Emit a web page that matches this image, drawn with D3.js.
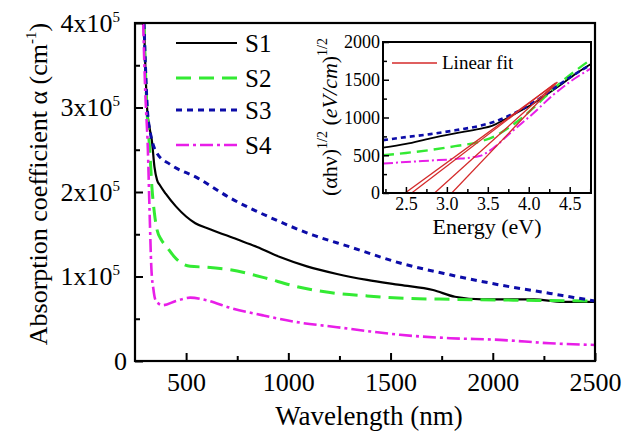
<!DOCTYPE html>
<html lang="en">
<meta charset="utf-8"/>
<body style="margin:0;background:#fff">
<svg id="chart" width="636" height="437"></svg>
<script src="https://d3js.org/d3.v7.min.js"></script>
<script>
// main panel: [wavelength (nm), alpha (x10^5 cm^-1)]
let s1 = [[294,4.0],[309,3.0],[322,2.75],[333,2.6],[345,2.3],[358,2.14],[372,2.08],[400,1.98],[450,1.83],[500,1.71],[545,1.63],[617,1.56],[749,1.44],[847,1.35],[959,1.23],[1091,1.12],[1238,1.03],[1385,0.96],[1546,0.90],[1708,0.84],[1815,0.76],[1952,0.73],[2200,0.73],[2343,0.70],[2500,0.70]]
let s2 = [[294,4.0],[308,3.0],[322,2.5],[333,2.05],[345,1.75],[358,1.55],[380,1.43],[406,1.35],[440,1.24],[470,1.17],[520,1.12],[600,1.11],[715,1.08],[876,0.99],[1042,0.88],[1204,0.81],[1385,0.77],[1600,0.74],[1800,0.73],[2100,0.72],[2500,0.71]]
let s3 = [[294,4.0],[310,3.0],[325,2.7],[340,2.55],[360,2.45],[420,2.33],[553,2.17],[715,1.93],[910,1.70],[1121,1.49],[1302,1.35],[1546,1.16],[1791,1.02],[2035,0.90],[2280,0.80],[2500,0.71]]
let s4 = [[290,4.0],[300,3.2],[313,2.5],[321,1.8],[330,1.1],[340,0.85],[350,0.72],[365,0.68],[385,0.66],[450,0.71],[520,0.75],[600,0.72],[715,0.63],[876,0.54],[1042,0.46],[1238,0.40],[1400,0.35],[1546,0.31],[1791,0.27],[2035,0.25],[2280,0.21],[2500,0.19]]

// inset: [energy (eV), (alpha h nu)^1/2]
let i1 = [[2.22,600],[2.5,650],[2.8,725],[3.1,790],[3.4,850],[3.55,890],[3.7,970],[3.85,1060],[4.0,1150],[4.2,1290],[4.4,1440],[4.6,1600],[4.76,1710]]
let i2 = [[2.22,500],[2.5,530],[2.8,570],[3.1,620],[3.4,680],[3.6,760],[3.75,860],[3.9,980],[4.1,1170],[4.3,1380],[4.5,1560],[4.76,1770]]
let i3 = [[2.22,700],[2.5,740],[2.8,780],[3.1,830],[3.4,890],[3.6,950],[3.75,1020],[3.9,1100],[4.1,1230],[4.3,1380],[4.5,1530],[4.76,1700]]
let i4 = [[2.22,390],[2.5,410],[2.8,430],[3.1,450],[3.4,490],[3.56,590],[3.8,820],[4.05,1050],[4.3,1300],[4.5,1470],[4.76,1650]]
let fits = [[[2.49,0],[4.30,1430]],[[2.57,0],[4.33,1460]],[[2.85,0],[4.30,1420]],[[3.06,0],[4.35,1470]]]

let xTicks = [500,1000,1500,2000,2500]
let xMinor = [750,1250,1750,2250]
let yTicks = [0,1,2,3,4]
let yMinor = [0.5,1.5,2.5,3.5]
let ixTicks = [2.5,3.0,3.5,4.0,4.5]
let ixMinor = [2.25,2.75,3.25,3.75,4.25,4.75]
let iyTicks = [0,500,1000,1500,2000]
let iyMinor = [250,750,1250,1750]

let names = ["S1","S2","S3","S4"]
let colors = ["#000000","#33ea33","#0c0ca8","#e81ee8"]
let dashes = ["none","15,8","6,5","13,4,3,4"]
let widths = [2.2,3,3,2.6]

let font = "Liberation Serif, DejaVu Serif, Times New Roman, serif"
let svg = d3.select("#chart").attr("font-family", font)

let L=135, R=595, T=23, B=361
let x = d3.scaleLinear().domain([250,2500]).range([L,R])
let y = d3.scaleLinear().domain([0,4]).range([B,T])

svg.append("clipPath").attr("id","clipMain").append("rect").attr("x",L).attr("y",T).attr("width",R-L).attr("height",B-T)

let line = d3.line().x(d=>x(d[0])).y(d=>y(d[1])).curve(d3.curveMonotoneX)
let series = [s1,s2,s3,s4]
series.forEach((s,i)=>{
	svg.append("path").attr("d", line(s)).attr("fill","none")
		.attr("stroke", colors[i]).attr("stroke-width", widths[i])
		.attr("stroke-dasharray", dashes[i]).attr("clip-path","url(#clipMain)")
})

// axes
let gx = svg.append("g").attr("transform","translate(0,"+B+")")
	.call(d3.axisBottom(x).tickValues(xTicks).tickSizeInner(-8).tickSizeOuter(0).tickPadding(12).tickFormat(d3.format("d")))
let gxm = svg.append("g").attr("transform","translate(0,"+B+")")
	.call(d3.axisBottom(x).tickValues(xMinor).tickSizeInner(-5).tickSizeOuter(0).tickFormat(""))
let gy = svg.append("g").attr("transform","translate("+L+",0)")
	.call(d3.axisLeft(y).tickValues(yTicks).tickSizeInner(-8).tickSizeOuter(0).tickPadding(8).tickFormat(d3.format("d")))
let gym = svg.append("g").attr("transform","translate("+L+",0)")
	.call(d3.axisLeft(y).tickValues(yMinor).tickSizeInner(-5).tickSizeOuter(0).tickFormat(""))
svg.selectAll("g").attr("font-family", font)
svg.selectAll(".domain").remove()
svg.selectAll(".tick line").attr("stroke","#000").attr("stroke-width",2)
gx.selectAll("text").attr("font-size","26px").attr("fill","#000")
gy.selectAll(".tick text").each(function(d){
	let t = d3.select(this).attr("font-size","26px").attr("fill","#000")
	if (d===0) return
	t.text(null).attr("x",-15)
	t.append("tspan").text(d+"x10")
	t.append("tspan").attr("dy","-10").attr("font-size","15px").text("5")
})

svg.append("rect").attr("x",L).attr("y",T).attr("width",R-L).attr("height",B-T)
	.attr("fill","none").attr("stroke","#000").attr("stroke-width",2.2)

// axis titles
svg.append("text").attr("x",369).attr("y",425).attr("text-anchor","middle")
	.attr("font-size","27px").text("Wavelength (nm)")
let yt = svg.append("text").attr("transform","translate(47,184) rotate(-90)")
	.attr("text-anchor","middle").attr("font-size","26px")
yt.append("tspan").text("Absorption coefficient \u03b1 (cm")
yt.append("tspan").attr("dy","-11").attr("font-size","15px").text("-1")
yt.append("tspan").attr("dy","11").text(")")

// legend
names.forEach((n,i)=>{
	let ly = [43,78,110,145][i]
	svg.append("line").attr("x1",176).attr("x2",237).attr("y1",ly).attr("y2",ly)
		.attr("stroke",colors[i]).attr("stroke-width",widths[i]).attr("stroke-dasharray",dashes[i])
	svg.append("text").attr("x",245).attr("y",ly+9).attr("font-size","25px").text(n)
})

// inset
let iL=383, iR=591, iT=42, iB=193
let xi = d3.scaleLinear().domain([2.22,4.76]).range([iL,iR])
let yi = d3.scaleLinear().domain([0,2000]).range([iB,iT])
svg.append("rect").attr("x",iL).attr("y",iT).attr("width",iR-iL).attr("height",iB-iT).attr("fill","#fff")
svg.append("clipPath").attr("id","clipInset").append("rect").attr("x",iL).attr("y",iT).attr("width",iR-iL).attr("height",iB-iT)

let iline = d3.line().x(d=>xi(d[0])).y(d=>yi(d[1])).curve(d3.curveMonotoneX)
let iseries = [i1,i2,i3,i4]
let iwidths = [1.8,2.4,2.6,2]
let idash = ["none","11,6","5,4","10,3,2,3"]
iseries.forEach((s,i)=>{
	svg.append("path").attr("d", iline(s)).attr("fill","none")
		.attr("stroke", colors[i]).attr("stroke-width", iwidths[i])
		.attr("stroke-dasharray", idash[i]).attr("clip-path","url(#clipInset)")
})
fits.forEach(f=>{
	svg.append("path").attr("d", d3.line().x(d=>xi(d[0])).y(d=>yi(d[1]))(f))
		.attr("fill","none").attr("stroke","#d42a2a").attr("stroke-width",1.3).attr("clip-path","url(#clipInset)")
})

let igx = svg.append("g").attr("transform","translate(0,"+iB+")")
	.call(d3.axisBottom(xi).tickValues(ixTicks).tickSizeInner(-6).tickSizeOuter(0).tickPadding(4).tickFormat(d3.format(".1f")))
let igxm = svg.append("g").attr("transform","translate(0,"+iB+")")
	.call(d3.axisBottom(xi).tickValues(ixMinor).tickSizeInner(-4).tickSizeOuter(0).tickFormat(""))
let igy = svg.append("g").attr("transform","translate("+iL+",0)")
	.call(d3.axisLeft(yi).tickValues(iyTicks).tickSizeInner(-6).tickSizeOuter(0).tickPadding(3).tickFormat(d3.format("d")))
let igym = svg.append("g").attr("transform","translate("+iL+",0)")
	.call(d3.axisLeft(yi).tickValues(iyMinor).tickSizeInner(-4).tickSizeOuter(0).tickFormat(""))
;[igx,igxm,igy,igym].forEach(g=>{
	g.attr("font-family", font)
	g.selectAll(".domain").remove()
	g.selectAll(".tick line").attr("stroke","#000").attr("stroke-width",1.5)
	g.selectAll("text").attr("font-size","18px").attr("fill","#000")
})

svg.append("rect").attr("x",iL).attr("y",iT).attr("width",iR-iL).attr("height",iB-iT)
	.attr("fill","none").attr("stroke","#000").attr("stroke-width",2)

svg.append("line").attr("x1",392).attr("x2",437).attr("y1",63).attr("y2",63)
	.attr("stroke","#d42a2a").attr("stroke-width",1.5)
svg.append("text").attr("x",442).attr("y",69).attr("font-size","19px").text("Linear fit")

svg.append("text").attr("x",487).attr("y",234).attr("text-anchor","middle")
	.attr("font-size","22px").text("Energy (eV)")
let it = svg.append("text").attr("transform","translate(337,117) rotate(-90)")
	.attr("text-anchor","middle").attr("font-size","22px")
it.append("tspan").text("(\u03b1h\u03bd)")
it.append("tspan").attr("dy","-10").attr("font-size","14px").text("1/2")
it.append("tspan").attr("dy","10").text(" (")
it.append("tspan").attr("font-style","italic").text("eV/cm")
it.append("tspan").text(")")
it.append("tspan").attr("dy","-10").attr("font-size","14px").text("1/2")
</script>
</body>
</html>
